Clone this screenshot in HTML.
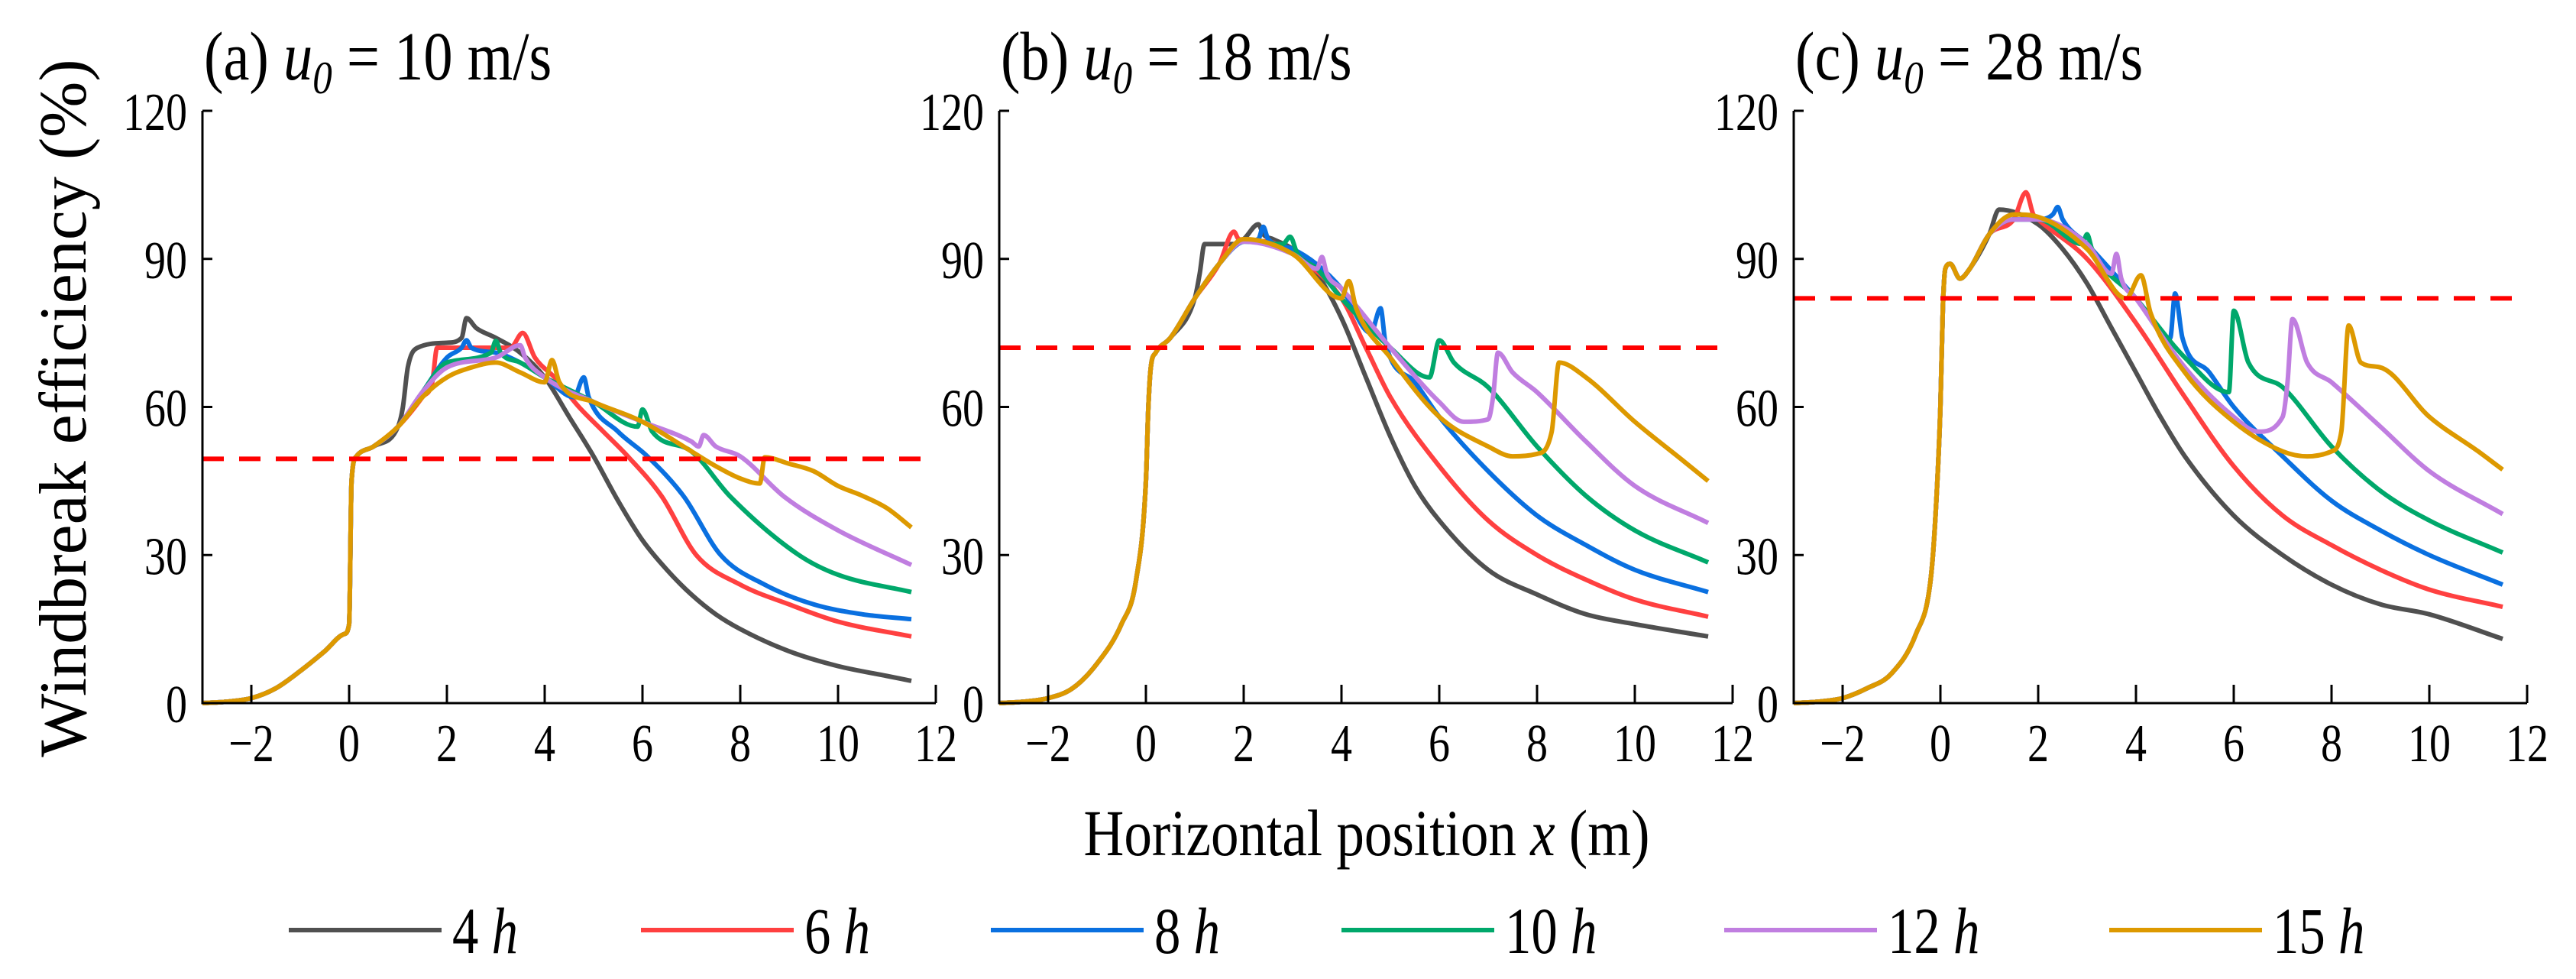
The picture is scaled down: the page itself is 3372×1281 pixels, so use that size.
<!DOCTYPE html>
<html><head><meta charset="utf-8"><style>
html,body{margin:0;padding:0;background:#fff;}
svg{display:block;font-family:"Liberation Serif",serif;}
</style></head><body>
<svg id="chart" xmlns="http://www.w3.org/2000/svg" width="3372" height="1281" viewBox="0 0 3372 1281">
<text x="0" y="0" font-size="88" text-anchor="middle" transform="translate(112,534) rotate(-90)">Windbreak efficiency (%)</text>
<text x="0" y="0" font-size="86" text-anchor="middle" transform="translate(1789,1119) scale(0.85,1)">Horizontal position <tspan font-style="italic">x</tspan> (m)</text>
</svg>
<script>
const xTicks=[-2,0,2,4,6,8,10,12];
const yTicks=[0,30,60,90,120];
const seriesNames=["4 h","6 h","8 h","10 h","12 h","15 h"];
const seriesColors=["#505050","#ff4040","#0a70e0","#00a86b","#c07ee0","#dd9900"];
const titleSpeeds=["10","18","28"];
const titleLetters=["(a)","(b)","(c)"];
const thresholds=[49.5,72,82];

const aEarlyX=[-3,-2.5,-2,-1.5,-1,-0.5,-0.1,0,0.05,0.15,0.5,1];
const aEarlyY=[0,0.3,1,3,6.5,10.5,14,16,45,50,52,56];
const bEarlyX=[-3,-2.5,-2,-1.5,-1,-0.5,-0.2,0,0.05,0.1,0.2,0.5,1];
const bEarlyY=[0,0.3,1,3,8,16,25,45,60,68,71,74,82];
const cEarlyX=[-3,-2.5,-2,-1.5,-1,-0.5,-0.2,-0.1,0,0.05,0.1,0.2,0.4,0.6,1];
const cEarlyY=[0,0.3,1,3,6,14,25,38,60,80,88,89,86,88,95];

const a4x=[1.1,1.2,1.4,2,2.3,2.4,2.6,3,3.5,4,4.5,5,5.5,6,6.5,7,7.5,8,9,10,11,11.5];
const a4y=[60,68,72,73,74,78,76,74,71,66,58,50,41,33,27,22,18,15,10.5,7.5,5.5,4.5];
const a6x=[1.5,1.7,1.8,2.5,3.3,3.55,3.8,4.2,4.7,5.2,5.7,6.4,7.1,8,9,10,11.5];
const a6y=[62,65,72,72,72,75,70,66,60,55,50,41.8,30,24,20,16.5,13.5];
const a8x=[1.5,2,2.3,2.4,2.5,3,3.5,4,4.6,4.8,4.9,5.5,6.1,6.85,7.6,8.5,9.5,10.5,11.5];
const a8y=[63,70,72,73.5,72,71,69,66,62,66,62,55,50,41.8,30,24,20,18,17];
const a10x=[1.5,2,2.9,3.0,3.1,3.5,4,5,5.9,6.0,6.2,7,7.8,9.2,10,11.5];
const a10y=[63,69,71,73.4,71,69,66,61,56,59.5,55,51,41.8,30,26,22.5];
const a12x=[1.5,2,3,3.5,3.6,4,5,6,7,7.15,7.25,7.5,8,8.9,10,11.5];
const a12y=[63,68,70,72.5,70,66,61,57,53,52,54.3,52,50,41.8,35,28];
const a15x=[1.5,2,2.5,3,3.5,4,4.15,4.3,5,6,7,7.5,8,8.4,8.5,9,9.5,10,10.5,11,11.5];
const a15y=[62,66,68,69,67,65,69.5,65,61,57,51,48,45.5,44.5,49.8,48.5,47,44,42,39.5,35.6];

const b4x=[1.1,1.2,1.8,2,2.3,2.4,2.6,3,3.5,4,4.5,5,5.5,6,7,8,9,10,11.5];
const b4y=[87,93,93,94,97,95,94,92,87,78,66,54,44,37,27,22,18,16,13.5];
const b6x=[1.5,1.8,1.9,2.5,3,4,4.5,5,6,7,8,9,10,11.5];
const b6y=[89,95.5,94,93.5,91,82,72,62,48,37,30,25,21,17.5];
const b8x=[1.5,2,2.3,2.4,2.5,3,4,4.6,4.8,4.9,5.5,6,7,8,9,10,11.5];
const b8y=[89,93.5,94,96.5,94,92,84,75,80,73,65,58,47,38,32,27,22.5];
const b10x=[1.5,2,2.8,2.95,3.1,3.5,4,5,5.8,6.0,6.3,7,8,9,10,11.5];
const b10y=[89,93.5,93,94.5,91,88,82,72,66,73.5,69,64,52,42,35,28.5];
const b12x=[1.5,2,3,3.5,3.6,3.7,4,5,6,6.5,7,7.1,7.2,7.5,8,9,10,11.5];
const b12y=[89,93.5,91,88,90.4,87,84,72,61,57,57.5,62,71,67,63,53,44,36.5];
const b15x=[1.5,2,3,4,4.15,4.3,5,6,7,7.5,8,8.3,8.45,9,10,11,11.5];
const b15y=[89,94,91,82,85.5,80,70,58,52,50,50.5,55,69,66,57,49,45];

const c4x=[1.2,2,2.5,3,3.5,4,4.5,5,6,7,8,9,10,11.5];
const c4y=[100,97,92,85,76,67,58,50,38,30,24,20,18,13];
const c6x=[1.5,1.75,1.9,2,3,4,5,6,7,8,9,10,11.5];
const c6y=[98,103.5,99,98,90,77,62,48,38,32,27,23,19.5];
const c8x=[1.5,2,2.3,2.4,2.5,3,4,4.7,4.8,4.95,5.5,6,7,8,9,10,11.5];
const c8y=[98,98,99,100.5,98,93,82,74,83,74,67,60,50,41,35,30,24];
const c10x=[1.5,2,2.9,3.0,3.1,4,5,5.9,6.0,6.3,7,8,9,10,11.5];
const c10y=[98,98,93,95,92,82,70,63,79.5,69,64,52,43,37,30.5];
const c12x=[1.5,2,3,3.5,3.6,3.7,4,5,6,6.5,7,7.1,7.2,7.5,8,9,10,11.5];
const c12y=[98,98,93,87,91,86,82,68,58,55,58,65,77.8,69,65,56,47,38.3];
const c15x=[1.5,2,3,3.8,4.1,4.3,5,6,7,7.5,8,8.2,8.35,8.6,9,10,11,11.5];
const c15y=[99,98.5,92,82,86.7,79,67,57,51,50,51,55,76.5,69,68,58,51,47.3];

const panelEarlyX=[aEarlyX,bEarlyX,cEarlyX];
const panelEarlyY=[aEarlyY,bEarlyY,cEarlyY];
const panelSeriesX=[[a4x,a6x,a8x,a10x,a12x,a15x],[b4x,b6x,b8x,b10x,b12x,b15x],[c4x,c6x,c8x,c10x,c12x,c15x]];
const panelSeriesY=[[a4y,a6y,a8y,a10y,a12y,a15y],[b4y,b6y,b8y,b10y,b12y,b15y],[c4y,c6y,c8y,c10y,c12y,c15y]];

const NS="http://www.w3.org/2000/svg";
const svg=document.getElementById('chart');
function mk(tag,attrs,parent){const e=document.createElementNS(NS,tag);for(const k in attrs)e.setAttribute(k,attrs[k]);(parent||svg).appendChild(e);return e;}

// monotone cubic path through screen points
function monoPath(px,py){
  const n=px.length;
  if(n<2)return '';
  const d=[],m=new Array(n);
  for(let i=0;i<n-1;i++)d.push((py[i+1]-py[i])/((px[i+1]-px[i])||1e-6));
  m[0]=d[0];m[n-1]=d[n-2];
  for(let i=1;i<n-1;i++){m[i]=(d[i-1]*d[i]<=0)?0:(d[i-1]+d[i])/2;}
  for(let i=0;i<n-1;i++){
    if(d[i]===0){m[i]=0;m[i+1]=0;continue;}
    const a=m[i]/d[i],b=m[i+1]/d[i],s=a*a+b*b;
    if(s>9){const t=3/Math.sqrt(s);m[i]=t*a*d[i];m[i+1]=t*b*d[i];}
  }
  let p='M'+px[0].toFixed(1)+','+py[0].toFixed(1);
  for(let i=0;i<n-1;i++){
    const h=(px[i+1]-px[i])/3;
    p+='C'+(px[i]+h).toFixed(1)+','+(py[i]+m[i]*h).toFixed(1)+' '+(px[i+1]-h).toFixed(1)+','+(py[i+1]-m[i+1]*h).toFixed(1)+' '+px[i+1].toFixed(1)+','+py[i+1].toFixed(1);
  }
  return p;
}

const X0=[457,1500,2540];
const UNIT=64;
const Y0=920, YS=775/120;
const panelNames=["panel-a","panel-b","panel-c"];
const SX=0.8;

for(let p=0;p<3;p++){
  const sx=v=>X0[p]+v*UNIT;
  const sy=v=>Y0-v*YS;
  const g=mk('g',{});
  
  
  const left=sx(-3), right=sx(12);
  const t=mk('text',{x:0,y:0,'font-size':90,transform:`translate(${left+2},104) scale(0.85,1)`},g);
  
  
  t.innerHTML=titleLetters[p]+' <tspan font-style="italic">u</tspan><tspan font-style="italic" font-size="60" dy="18">0</tspan><tspan dy="-18"> = '+titleSpeeds[p]+' m/s</tspan>';
  for(let s=0;s<6;s++){
    const xs=panelEarlyX[p].concat(panelSeriesX[p][s]);
    const ys=panelEarlyY[p].concat(panelSeriesY[p][s]);
    const path=mk('path',{d:monoPath(xs.map(sx),ys.map(sy)),fill:'none',stroke:seriesColors[s],'stroke-width':6,'stroke-linejoin':'round'},g);
    
    
  }
  const dl=mk('line',{x1:left,x2:right,y1:sy(thresholds[p]),y2:sy(thresholds[p]),stroke:'#ff0000','stroke-width':6,'stroke-dasharray':'28,20'},g);
  
  
  const ax=mk('path',{d:`M${left},${sy(120)}L${left},${Y0}L${right},${Y0}`,fill:'none',stroke:'#000','stroke-width':3},g);
  
  
  for(const v of xTicks){
    const tk=mk('line',{x1:sx(v),x2:sx(v),y1:Y0,y2:Y0-24,stroke:'#000','stroke-width':3},g);
    
    
    const tl=mk('text',{x:0,y:0,'font-size':70,'text-anchor':'middle',transform:`translate(${sx(v)},996) scale(${SX},1)`},g);
    
    
    tl.textContent=v<0?'\u2212'+(-v):String(v);
  }
  for(const v of yTicks){
    const tk=mk('line',{x1:left,x2:left+13,y1:sy(v),y2:sy(v),stroke:'#000','stroke-width':3},g);
    
    
    const tl=mk('text',{x:0,y:0,'font-size':70,'text-anchor':'end',transform:`translate(${left-20},${sy(v)+25}) scale(${SX},1)`},g);
    
    
    tl.textContent=String(v);
  }
}
const legX=[378,839,1297,1756,2257,2761];
const lg=mk('g',{});


for(let s=0;s<6;s++){
  const ln=mk('line',{x1:legX[s],x2:legX[s]+200,y1:1217,y2:1217,stroke:seriesColors[s],'stroke-width':6},lg);
  
  
  const parts=seriesNames[s].split(' ');
  const tx=mk('text',{x:0,y:0,'font-size':86,transform:`translate(${legX[s]+214},1247) scale(0.8,1)`},lg);
  
  
  tx.innerHTML=parts[0]+' <tspan font-style="italic">'+parts[1]+'</tspan>';
}
</script>
</body></html>
